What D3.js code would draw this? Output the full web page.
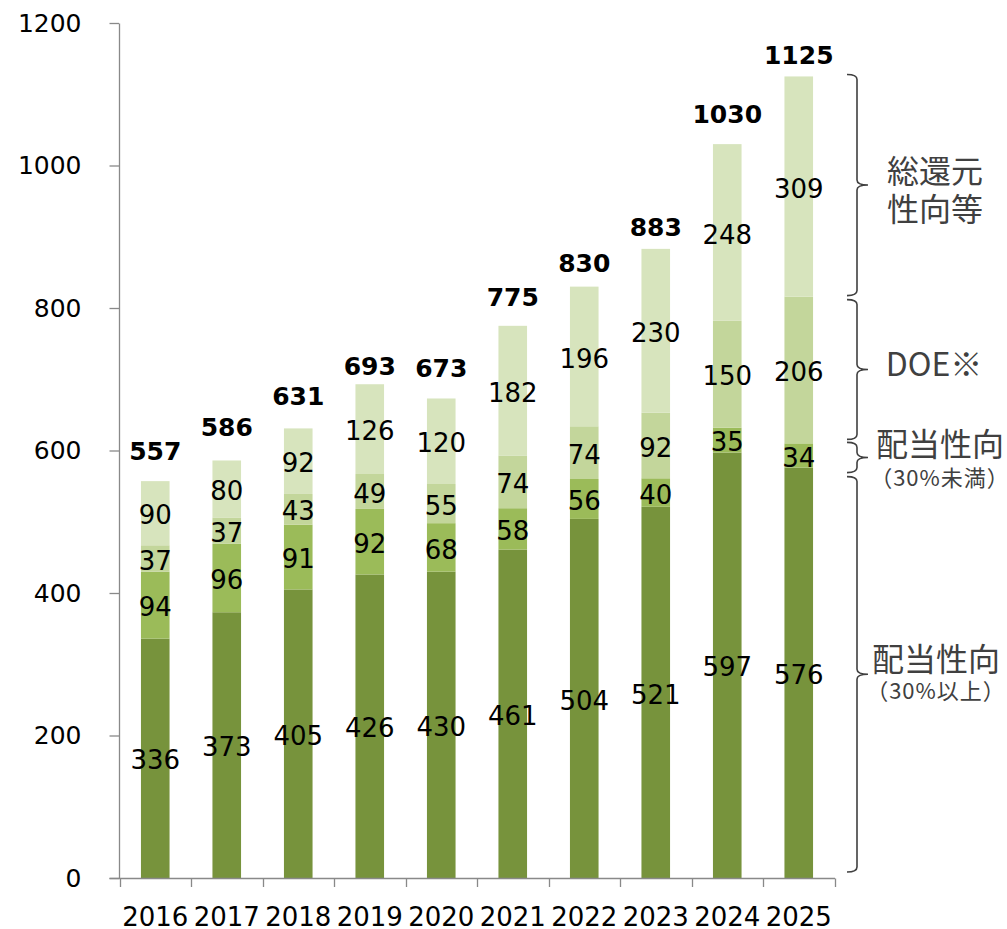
<!DOCTYPE html>
<html>
<head>
<meta charset="utf-8">
<script src="https://cdn.jsdelivr.net/npm/d3@7"></script>
<style>
  body { margin: 0; background: #fff; }
  svg { display: block; }
</style>
</head>
<body>
<script>
// data
var years = ["2016", "2017", "2018", "2019", "2020", "2021", "2022", "2023", "2024", "2025"];
var payoutHigh = [336, 373, 405, 426, 430, 461, 504, 521, 597, 576];   // 配当性向（30%以上）
var payoutLow = [94, 96, 91, 92, 68, 58, 56, 40, 35, 34];              // 配当性向（30%未満）
var doe = [37, 37, 43, 49, 55, 74, 74, 92, 150, 206];                  // DOE※
var totalReturn = [90, 80, 92, 126, 120, 182, 196, 230, 248, 309];     // 総還元性向等
var totals = [557, 586, 631, 693, 673, 775, 830, 883, 1030, 1125];
var yTicks = [0, 200, 400, 600, 800, 1000, 1200];

// layout: gap (px) between bar top and the baseline of its total label
var totalGap = [21, 24, 23, 9, 21, 20, 15, 13, 21, 12];

var keys = ["high", "low", "doe", "ret"];
var colors = ["#77933C", "#9BBB59", "#C3D69B", "#D7E4BD"];

var svgWidth = 1007;
var svgHeight = 929;

var svg = d3.select("body").append("svg")
  .attr("width", svgWidth)
  .attr("height", svgHeight);

var numFont = "'DejaVu Sans', Verdana, sans-serif";
var jpFont = "'Noto Sans CJK JP', 'Noto Sans', sans-serif";

// table for d3.stack
var table = years.map(function(yr, i) {
  return { year: yr, high: payoutHigh[i], low: payoutLow[i], doe: doe[i], ret: totalReturn[i], total: totals[i], gap: totalGap[i] };
});

var x = d3.scaleBand()
  .domain(years)
  .range([119.5, 834.5])
  .paddingInner(0.6)
  .paddingOuter(0.3);

// same range with no padding, for the category boundary ticks
var xEdge = d3.scaleBand()
  .domain(years)
  .range([119.5, 834.5])
  .padding(0);

var y = d3.scaleLinear()
  .domain([0, 1200])
  .range([878, 23]);

var series = d3.stack().keys(keys)(table);

// bars
var layers = svg.append("g").selectAll("g")
  .data(series)
  .enter()
  .append("g")
  .attr("fill", function(d, i) { return colors[i]; });

layers.selectAll("rect")
  .data(function(d) { return d; })
  .enter()
  .append("rect")
  .attr("x", function(d) { return x(d.data.year); })
  .attr("width", x.bandwidth())
  .attr("y", function(d) { return y(d[1]); })
  .attr("height", function(d) { return y(d[0]) - y(d[1]); });

// segment labels
layers.selectAll("text")
  .data(function(d) { return d; })
  .enter()
  .append("text")
  .attr("x", function(d) { return x(d.data.year) + x.bandwidth() / 2; })
  .attr("y", function(d) { return y((d[0] + d[1]) / 2); })
  .attr("dy", "0.43em")
  .attr("text-anchor", "middle")
  .attr("fill", "#000")
  .style("font-family", numFont)
  .style("font-size", "26px")
  .text(function(d) { return d[1] - d[0]; });

// totals on top
svg.append("g").selectAll("text")
  .data(table)
  .enter()
  .append("text")
  .attr("x", function(d) { return x(d.year) + x.bandwidth() / 2; })
  .attr("y", function(d) { return y(d.total) - d.gap; })
  .attr("text-anchor", "middle")
  .style("font-family", numFont)
  .style("font-size", "25px")
  .style("font-weight", "bold")
  .text(function(d) { return d.total; });

// y axis
var yAxis = svg.append("g")
  .attr("transform", "translate(119,0)")
  .call(d3.axisLeft(y).tickValues(yTicks).tickFormat(d3.format("d"))
    .tickSize(9.5).tickSizeOuter(0).tickPadding(28));
yAxis.select(".domain").attr("stroke", "#898989").attr("stroke-width", 1.3);
yAxis.selectAll(".tick line").attr("stroke", "#898989").attr("stroke-width", 1.3);
yAxis.selectAll(".tick text")
  .attr("fill", "#000")
  .style("font-family", numFont)
  .style("font-size", "25px");

// x axis: line, boundary ticks, labels
var xAxis = svg.append("g");
xAxis.append("line")
  .attr("x1", 109.5).attr("x2", 835)
  .attr("y1", 878.5).attr("y2", 878.5)
  .attr("stroke", "#898989").attr("stroke-width", 1.3);

var edges = years.map(function(d) { return xEdge(d); }).concat([xEdge.range()[1]]);
xAxis.selectAll(".xtick")
  .data(edges)
  .enter()
  .append("line")
  .attr("class", "xtick")
  .attr("x1", function(d) { return Math.round(d) + 0.5; })
  .attr("x2", function(d) { return Math.round(d) + 0.5; })
  .attr("y1", 878.5).attr("y2", 887)
  .attr("stroke", "#898989").attr("stroke-width", 1.3);

xAxis.selectAll(".xlabel")
  .data(years)
  .enter()
  .append("text")
  .attr("class", "xlabel")
  .attr("x", function(d) { return x(d) + x.bandwidth() / 2; })
  .attr("y", 925.5)
  .attr("text-anchor", "middle")
  .style("font-family", numFont)
  .style("font-size", "26px")
  .text(function(d) { return d; });

// right-hand braces, spanning the 2025 stack
var last = table[table.length - 1];
var cHigh = last.high;
var cLow = cHigh + last.low;
var cDoe = cLow + last.doe;
var cRet = cDoe + last.ret;

var braces = [
  { top: y(cRet) - 2, bottom: y(cDoe) - 1, lines: ["総還元", "性向等"], sizes: [32, 32], offs: [-14, 24], cx: 935 },
  { top: y(cDoe) + 3, bottom: y(cLow) - 4, lines: ["DOE※"], sizes: [32], offs: [-5], cx: 934 },
  { top: y(cLow) - 1, bottom: y(cHigh) + 5, lines: ["配当性向", "（30%未満）"], sizes: [32, 22], offs: [-13, 21], cx: 940 },
  { top: y(cHigh) + 9, bottom: y(0) - 6, lines: ["配当性向", "（30%以上）"], sizes: [32, 22], offs: [-15, 17], cx: 936 }
];

function bracePath(b) {
  var x0 = 847, xv = 857, xt = 868;
  var ym = (b.top + b.bottom) / 2;
  var r = Math.min(5, (b.bottom - b.top) / 4);
  return "M" + x0 + "," + b.top +
    "Q" + xv + "," + b.top + " " + xv + "," + (b.top + r) +
    "L" + xv + "," + (ym - r) +
    "Q" + xv + "," + ym + " " + xt + "," + ym +
    "Q" + xv + "," + ym + " " + xv + "," + (ym + r) +
    "L" + xv + "," + (b.bottom - r) +
    "Q" + xv + "," + b.bottom + " " + x0 + "," + b.bottom;
}

var braceG = svg.append("g").selectAll("g")
  .data(braces)
  .enter()
  .append("g");

braceG.append("path")
  .attr("d", bracePath)
  .attr("fill", "none")
  .attr("stroke", "#404040")
  .attr("stroke-width", 1.6);

braceG.each(function(b) {
  var ym = (b.top + b.bottom) / 2;
  var g = d3.select(this);
  b.lines.forEach(function(t, i) {
    g.append("text")
      .attr("x", b.cx)
      .attr("y", ym + b.offs[i])
      .attr("dy", "0.36em")
      .attr("text-anchor", "middle")
      .attr("fill", "#404040")
      .style("font-family", jpFont)
      .style("font-size", b.sizes[i] + "px")
      .style("letter-spacing", b.sizes[i] < 30 ? "1px" : "0px")
      .text(t);
  });
});
</script>
</body>
</html>
